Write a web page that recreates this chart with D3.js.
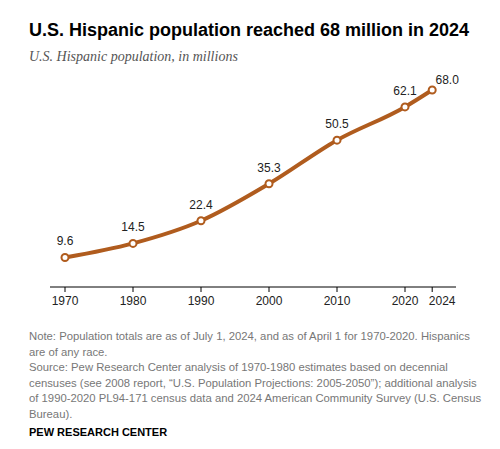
<!DOCTYPE html><html><head><meta charset="utf-8"><script src="https://cdn.jsdelivr.net/npm/d3@7"></script>
<style>body{margin:0;background:#fff;font-family:"Liberation Sans",Arial,sans-serif}</style></head><body><svg width="500" height="449"></svg>
<script>
const years=[1970,1980,1990,2000,2010,2020,2024];
const values=[9.6,14.5,22.4,35.3,50.5,62.1,68.0];
const tickYears=[1970,1980,1990,2000,2010,2020,2024];
const svg=d3.select("svg");
svg.append("text").attr("x",29).attr("y",36).attr("font-size",18).attr("font-weight","bold").attr("fill","#000").text("U.S. Hispanic population reached 68 million in 2024");
svg.append("text").attr("x",29).attr("y",61).attr("font-size",14).attr("font-style","italic").attr("font-family","Liberation Serif,Georgia,serif").attr("fill","#555").text("U.S. Hispanic population, in millions");
const x=d3.scaleLinear().domain([1970,2020]).range([65,405]);
const y=d3.scaleLinear().domain([0,68]).range([285,90]);
svg.append("line").attr("x1",50).attr("x2",456).attr("y1",287).attr("y2",287).attr("stroke","#000");
tickYears.forEach(t=>{const xx=x(t)+(t===2024?10:0);
svg.append("line").attr("x1",x(t)).attr("x2",x(t)).attr("y1",287).attr("y2",292).attr("stroke","#000");
svg.append("text").attr("x",xx).attr("y",305).attr("text-anchor","middle").attr("font-size",12).attr("fill","#222").text(t);});
const pts=years.map((d,i)=>[x(d),y(values[i])]);
svg.append("path").attr("d",d3.line().curve(d3.curveMonotoneX)(pts)).attr("fill","none").attr("stroke","#b05c1e").attr("stroke-width",4);
pts.forEach((p,i)=>{svg.append("circle").attr("cx",p[0]).attr("cy",p[1]).attr("r",3.5).attr("fill","#fff").attr("stroke","#b05c1e").attr("stroke-width",2);
const lx=i===6?p[0]+15:p[0]; const ly=i===6?p[1]-6:p[1]-12;
svg.append("text").attr("x",lx).attr("y",ly).attr("text-anchor","middle").attr("font-size",12).attr("fill","#222").text(values[i].toFixed(1));});
const notes=["Note: Population totals are as of July 1, 2024, and as of April 1 for 1970-2020. Hispanics","are of any race.","Source: Pew Research Center analysis of 1970-1980 estimates based on decennial","censuses (see 2008 report, \u201cU.S. Population Projections: 2005-2050\u201d); additional analysis","of 1990-2020 PL94-171 census data and 2024 American Community Survey (U.S. Census","Bureau)."];
notes.forEach((n,i)=>svg.append("text").attr("x",29).attr("y",340+i*15.5).attr("font-size",11.3).attr("fill","#777").text(n));
svg.append("text").attr("x",29).attr("y",436).attr("font-size",11).attr("font-weight","bold").attr("fill","#000").text("PEW RESEARCH CENTER");
</script></body></html>
